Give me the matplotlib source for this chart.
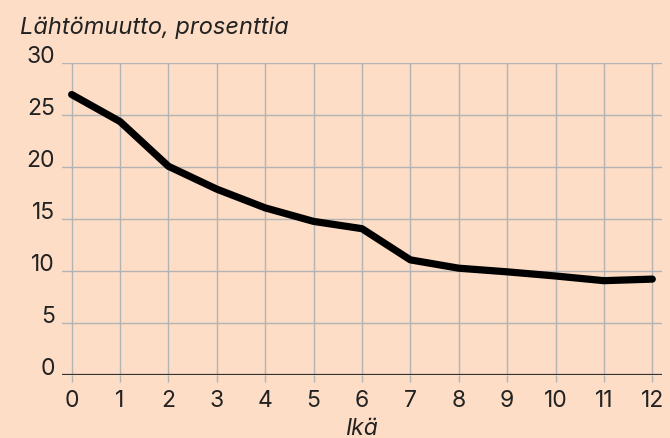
import matplotlib
matplotlib.use("Agg")
import matplotlib.pyplot as plt
import matplotlib.transforms as mtransforms

# data
ages = [0, 1, 2, 3, 4, 5, 6, 7, 8, 9, 10, 11, 12]
share = [27.0, 24.4, 20.1, 17.9, 16.1, 14.8, 14.1, 11.1, 10.3, 9.95, 9.55, 9.1, 9.25]
yticks = [0, 5, 10, 15, 20, 25, 30]
title = "Lähtömuutto, prosenttia"
xlabel = "Ikä"

bg = "#FDDDC6"
grid = "#B3B3B3"
text = "#222222"

plt.rcParams['font.family'] = ['Inter', 'DejaVu Sans']

fig = plt.figure(figsize=(6.7, 4.39), dpi=100, facecolor=bg)
ax = fig.add_axes([0.0925, 0.1428, 0.8955, 0.7107], facecolor=bg)

ax.plot(ages, share, color="black", linewidth=5.2, solid_capstyle="round",
        solid_joinstyle="round", zorder=3)

ax.set_xlim(-0.2, 12.2)
ax.set_ylim(0, 30)
ax.set_xticks(ages)
ax.set_yticks(yticks)
ax.grid(True, color=grid, linewidth=1.0)
ax.set_axisbelow(True)
ax.axhline(0, color="#333333", linewidth=1.6, zorder=2)

for s in ax.spines.values():
    s.set_visible(False)

ax.tick_params(axis="x", direction="out", length=5, width=1.0, color=grid,
               labelsize=16.5, labelcolor=text, pad=5)
ax.tick_params(axis="y", length=0, labelsize=16.5, labelcolor=text, pad=5)
shift = mtransforms.ScaledTranslation(0, -3 / 72, fig.dpi_scale_trans)
for lab in ax.get_yticklabels():
    lab.set_verticalalignment("bottom")
    lab.set_transform(lab.get_transform() + shift)

fig.text(0.03, 0.936, title, fontsize=17, style="italic", color=text,
         va="center", ha="left")
ax.set_xlabel(xlabel, fontsize=16.5, style="italic", color=text, labelpad=4)

fig.savefig("out.png", dpi=100, facecolor=bg)
